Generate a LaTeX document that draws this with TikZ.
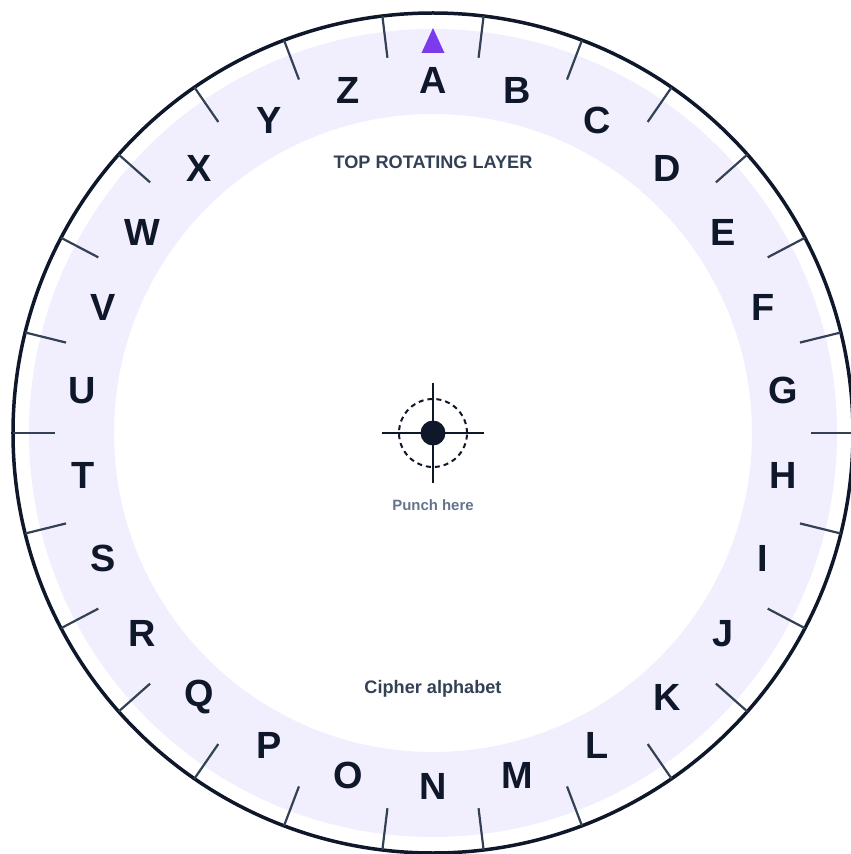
\documentclass[tikz,border=0pt]{standalone}
\usepackage{fontspec}
\setmainfont{Liberation Sans}
\usetikzlibrary{positioning}
\definecolor{dialink}{HTML}{0F172A}
\definecolor{dialslate}{HTML}{334155}
\definecolor{dialband}{HTML}{F1EEFD}
\definecolor{dialpurple}{HTML}{7C3AED}
\definecolor{dialgray}{HTML}{64748B}

\begin{document}
\begin{tikzpicture}[
  x=1bp, y=1bp,
  letter/.style={font=\fontsize{38}{40}\selectfont\bfseries, text=dialink,
    inner sep=0pt},
  caption/.style={font=\fontsize{18.2}{20}\selectfont\bfseries, text=dialslate,
    inner sep=0pt, anchor=base},
  notch/.style={dialslate, line width=2.2bp},
  hole/.style={circle, fill=dialink, minimum size=25bp, inner sep=0pt}
]

  \useasboundingbox (-433,-421) rectangle (418,433);

  % rotating band and rim
  \fill[dialband, even odd rule] (0,0) circle[radius=404] (0,0) circle[radius=319];
  \draw[dialink, line width=3.5bp] (0,0) circle[radius=420];

  \foreach \i in {0,...,25}
    \draw[notch] ({90-(\i+0.5)*360/26}:378) -- ({90-(\i+0.5)*360/26}:420);

  % pointer
  \fill[dialpurple] (0,405) -- (-11.5,380) -- (11.5,380) -- cycle;

  \node[letter] (lA) at ({90-0*360/26}:353) {A};
  \node[letter] (lB) at ({90-1*360/26}:353) {B};
  \node[letter] (lC) at ({90-2*360/26}:353) {C};
  \node[letter] (lD) at ({90-3*360/26}:353) {D};
  \node[letter] (lE) at ({90-4*360/26}:353) {E};
  \node[letter] (lF) at ({90-5*360/26}:353) {F};
  \node[letter] (lG) at ({90-6*360/26}:353) {G};
  \node[letter] (lH) at ({90-7*360/26}:353) {H};
  \node[letter] (lI) at ({90-8*360/26}:353) {I};
  \node[letter] (lJ) at ({90-9*360/26}:353) {J};
  \node[letter] (lK) at ({90-10*360/26}:353) {K};
  \node[letter] (lL) at ({90-11*360/26}:353) {L};
  \node[letter] (lM) at ({90-12*360/26}:353) {M};
  \node[letter] (lN) at ({90-13*360/26}:353) {N};
  \node[letter] (lO) at ({90-14*360/26}:353) {O};
  \node[letter] (lP) at ({90-15*360/26}:353) {P};
  \node[letter] (lQ) at ({90-16*360/26}:353) {Q};
  \node[letter] (lR) at ({90-17*360/26}:353) {R};
  \node[letter] (lS) at ({90-18*360/26}:353) {S};
  \node[letter] (lT) at ({90-19*360/26}:353) {T};
  \node[letter] (lU) at ({90-20*360/26}:353) {U};
  \node[letter] (lV) at ({90-21*360/26}:353) {V};
  \node[letter] (lW) at ({90-22*360/26}:353) {W};
  \node[letter] (lX) at ({90-23*360/26}:353) {X};
  \node[letter] (lY) at ({90-24*360/26}:353) {Y};
  \node[letter] (lZ) at ({90-25*360/26}:353) {Z};

  \node[caption] (layer) at (0,264) {TOP ROTATING LAYER};
  \node[caption] (cipher) at (0,-260) {Cipher alphabet};

  % punch mark
  \draw[dialink, line width=2bp, dash pattern=on 5bp off 4bp] (0,0) circle[radius=34];
  \draw[dialink, line width=2bp] (-51,0) -- (51,0);
  \draw[dialink, line width=2bp] (0,-50) -- (0,50);
  \node[hole] (centre) at (0,0) {};
  \node[font=\fontsize{15}{17}\selectfont\bfseries, text=dialgray, inner sep=0pt,
    below=54bp of centre] (punch) {Punch here};

\end{tikzpicture}
\end{document}
